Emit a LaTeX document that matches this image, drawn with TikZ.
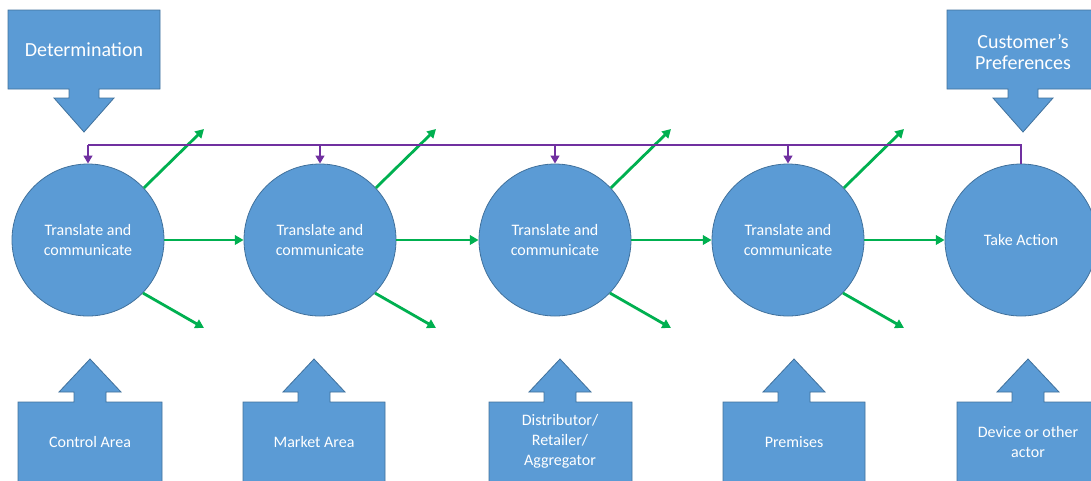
\documentclass[tikz,border=0pt]{standalone}
\usepackage{fontspec}
\setmainfont{Carlito}
\usetikzlibrary{arrows.meta}

\definecolor{boxblue}{HTML}{5B9BD5}
\definecolor{edgeblue}{HTML}{41719C}
\definecolor{flowgreen}{HTML}{00B050}
\definecolor{fbpurple}{HTML}{7030A0}

\tikzset{
  blob/.style={fill=boxblue, draw=edgeblue, line width=0.6pt},
  stage/.style={circle, blob, minimum size=114pt, inner sep=0pt,
    text=white, align=center, font=\fontsize{12}{15}\selectfont},
  biglbl/.style={text=white, align=center, font=\fontsize{15}{16}\selectfont},
  smalllbl/.style={text=white, align=center, font=\fontsize{12}{15}\selectfont},
  flow/.style={draw=flowgreen, line width=2.1pt, -{Triangle[length=6.5pt,width=7pt]}},
  feed/.style={draw=fbpurple, line width=2.1pt, -{Triangle[length=6pt,width=6.5pt]}},
  busline/.style={draw=fbpurple, line width=2.1pt},
}

% box on top with a downward arrow: left x, right x, top y, bottom y, arrow x
\newcommand\calloutdown[5]{%
  \filldraw[blob] (#1,#3) -- (#2,#3) -- (#2,#4) -- (#5+15,#4) -- (#5+15,#4+9)
    -- (#5+30,#4+9) -- (#5,#4+43) -- (#5-30,#4+9) -- (#5-15,#4+9) -- (#5-15,#4)
    -- (#1,#4) -- cycle;}
% box at the bottom with an upward arrow: left x, right x, arrow x
\newcommand\calloutup[3]{%
  \filldraw[blob] (#1,490) -- (#1,402) -- (#3-16,402) -- (#3-16,392) -- (#3-31,392)
    -- (#3,359) -- (#3+31,392) -- (#3+16,392) -- (#3+16,402) -- (#2,402)
    -- (#2,490) -- cycle;}

\begin{document}
\begin{tikzpicture}[x=0.75pt, y=-0.75pt]
  \useasboundingbox (0,0) rectangle (1091,480);
  \clip (0,0) rectangle (1091,480);

  % stages
  \node[stage] (c1) at (88,240)   {Translate and\\communicate};
  \node[stage] (c2) at (320,240)  {Translate and\\communicate};
  \node[stage] (c3) at (555,240)  {Translate and\\communicate};
  \node[stage] (c4) at (788,240)  {Translate and\\communicate};
  \node[stage] (c5) at (1021,240) {Take Action};

  % inputs from above
  \calloutdown{8}{160}{10}{89}{84}
  \node[biglbl] (det) at (84,50) {Determination};
  \calloutdown{947}{1099}{10}{89}{1023}
  \node[biglbl] (cust) at (1023,52) {Customer’s\\Preferences};

  % inputs from below
  \calloutup{18}{162}{90}
  \node[smalllbl] (ctrl) at (90,442) {Control Area};
  \calloutup{243}{385}{314}
  \node[smalllbl] (mkt) at (314,442) {Market Area};
  \calloutup{489}{632}{560}
  \node[smalllbl] (dist) at (560,441) {Distributor/\\Retailer/\\Aggregator};
  \calloutup{723}{865}{794}
  \node[smalllbl] (prem) at (794,442) {Premises};
  \calloutup{957}{1100}{1028}
  \node[smalllbl] (dev) at (1028,442) {Device or other\\actor};

  % flow between stages
  \draw[flow] (c1) -- (c2);
  \draw[flow] (c2) -- (c3);
  \draw[flow] (c3) -- (c4);
  \draw[flow] (c4) -- (c5);

  % side outputs of each translating stage
  \foreach \c in {c1,c2,c3,c4}{
    \path (\c) ++(116,-111) coordinate (\c up);
    \path (\c) ++(116,88) coordinate (\c dn);
    \draw[flow] (\c.43) -- (\c up);
    \draw[flow] (\c.-44) -- (\c dn);
  }

  % feedback bus from the action back to every stage
  \coordinate (bus) at (0,145);
  \draw[busline] (c5.north) -- (c5.north |- bus) -- (c1.north |- bus);
  \foreach \c in {c1,c2,c3,c4}{
    \draw[feed] (\c.north |- bus) -- (\c.north);
  }
\end{tikzpicture}
\end{document}
